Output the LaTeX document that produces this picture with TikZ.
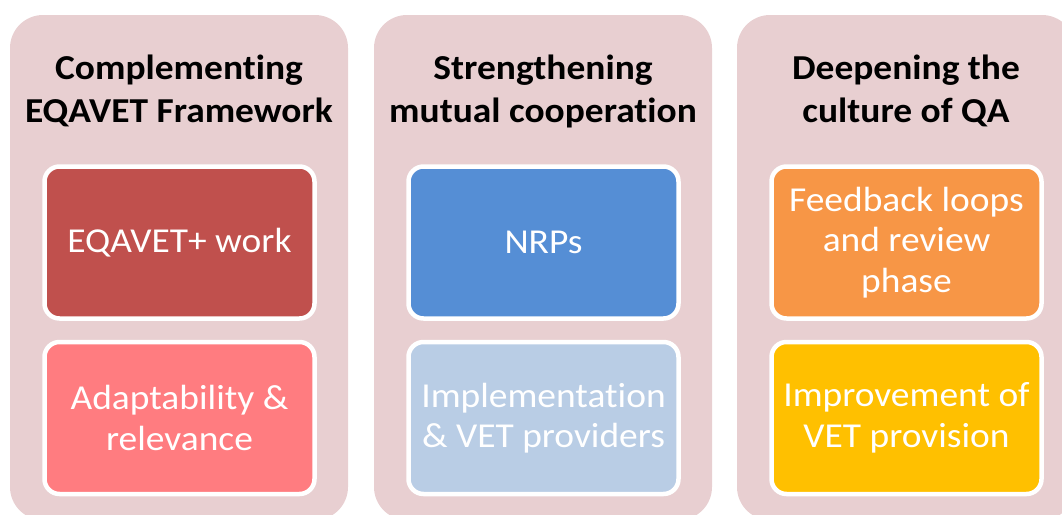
\documentclass[tikz,border=0pt]{standalone}
\usepackage{fontspec}
\setmainfont{Carlito}[FakeStretch=1.07, Ligatures=CommonOff]
\definecolor{outerpink}{HTML}{E8CFD1}
\definecolor{cred}{HTML}{C0504D}
\definecolor{cpink}{HTML}{FF7C80}
\definecolor{cblue}{HTML}{558ED5}
\definecolor{clblue}{HTML}{B9CDE5}
\definecolor{corange}{HTML}{F79646}
\definecolor{cyellow}{HTML}{FFC000}
\begin{document}
\begin{tikzpicture}[x=1pt,y=-1pt,
  outerbox/.style={fill=outerpink, rounded corners=33pt},
  heading/.style={font=\fontsize{35}{43}\selectfont\bfseries, text=black, align=center, inner sep=0pt, anchor=base},
  innerbox/.style={draw=white, line width=4.5pt, rounded corners=15pt, minimum width=270pt, minimum height=152pt, text=white, align=center, font=\fontsize{35}{40.5}\selectfont, inner sep=0pt}
]
\useasboundingbox (0,0) rectangle (1062,514);
\begin{scope}
\clip (0,0) rectangle (1062,514);
\fill[outerbox] (10,15) rectangle (348,520);
\fill[outerbox] (374,15) rectangle (712,520);
\fill[outerbox] (737,15) rectangle (1075,520);
\end{scope}
% headings (anchored at the baseline of the second line)
\node[heading] (h1) at (179,122.5) {Complementing\\EQAVET Framework};
\node[heading] (h2) at (543,122.5) {Strengthening\\mutual cooperation};
\node[heading] (h3) at (906,122.5) {Deepening the\\culture of QA};
% inner boxes
\node[innerbox, fill=cred] (a1) at (179.5,242.5) {EQAVET+ work};
\node[innerbox, fill=cpink] (a2) at (179.5,418) {Adaptability \&\\relevance};
\node[innerbox, fill=cblue] (b1) at (543.5,242.5) {NRPs};
\node[innerbox, fill=clblue] (b2) at (543.5,418) {Implementation\\\& VET providers};
\node[innerbox, fill=corange] (c1) at (906.5,242.5) {Feedback loops\\and review\\phase};
\node[innerbox, fill=cyellow] (c2) at (906.5,418) {Improvement of\\VET provision};
\end{tikzpicture}
\end{document}
